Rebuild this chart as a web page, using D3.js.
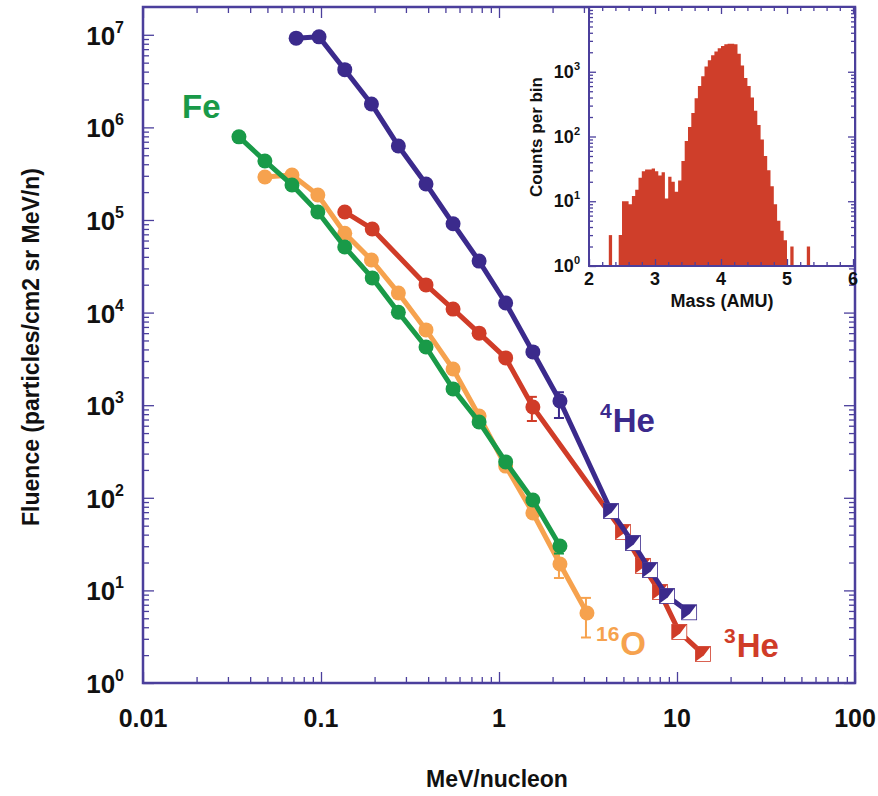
<!DOCTYPE html>
<html><head><meta charset="utf-8">
<script src="https://cdn.jsdelivr.net/npm/d3@7"></script>
<style>
body{margin:0;background:#fff}
text{font-family:"Liberation Sans",Arial,Helvetica,sans-serif;font-weight:bold}
</style>
</head><body>
<svg id="chart" width="878" height="796"></svg>
<script>
// ---------------- DATA ----------------
// 4He (purple)
const he4Energy = [0.0725, 0.0975, 0.136, 0.192, 0.272, 0.389, 0.552, 0.773, 1.09, 1.55, 2.20];
const he4Fluence = [9.2e6, 9.5e6, 4.2e6, 1.79e6, 6.3e5, 2.45e5, 9.1e4, 3.6e4, 1.27e4, 3.76e3, 1.11e3];
const he4HiEnergy = [4.26, 5.66, 7.05, 8.79, 11.7];
const he4HiFluence = [72, 32.5, 16.6, 8.7, 5.8];
// 3He (red)
const he3Energy = [0.136, 0.194, 0.389, 0.552, 0.773, 1.09, 1.55];
const he3Fluence = [1.22e5, 8.0e4, 1.99e4, 1.09e4, 6.0e3, 3.24e3, 955];
const he3HiEnergy = [4.97, 6.44, 8.02, 10.3, 14.0];
const he3HiFluence = [42.7, 18.4, 9.6, 3.55, 2.06];
// 16O (orange)
const oEnergy = [0.0484, 0.0687, 0.096, 0.136, 0.192, 0.272, 0.389, 0.552, 0.773, 1.09, 1.55, 2.20, 3.12];
const oFluence = [2.91e5, 3.06e5, 1.86e5, 7.2e4, 3.7e4, 1.63e4, 6.5e3, 2.46e3, 764, 220, 68.5, 19.3, 5.7];
// Fe (green)
const feEnergy = [0.0346, 0.0484, 0.0687, 0.096, 0.136, 0.194, 0.272, 0.389, 0.552, 0.773, 1.09, 1.55, 2.20];
const feFluence = [7.9e5, 4.34e5, 2.39e5, 1.22e5, 5.1e4, 2.37e4, 1.01e4, 4.25e3, 1.5e3, 659, 244, 94.7, 30.2];
// error bars
const errSeries = ["he4", "he3", "o", "o", "fe"];
const errEnergy = [2.20, 1.55, 2.20, 3.12, 2.20];
const errLow = [727, 675, 13.6, 3.1, 25];
const errHigh = [1380, 1230, 28.7, 8.3, 34];
// axis ticks
const xMajorTicks = [0.01, 0.1, 1, 10, 100];
const xTickLabels = ["0.01", "0.1", "1", "10", "100"];
const yExponents = [0, 1, 2, 3, 4, 5, 6, 7];
// inset histogram (mass bins of 0.05 AMU, start values)
const massBinStart = [2.30, 2.45, 2.50, 2.55, 2.60, 2.65, 2.70, 2.75, 2.80, 2.85, 2.90, 2.95, 3.00, 3.05, 3.10, 3.15, 3.20, 3.25, 3.30, 3.35,
  3.40, 3.45, 3.50, 3.55, 3.60, 3.65, 3.70, 3.75, 3.80, 3.85, 3.90, 3.95, 4.00, 4.05, 4.10, 4.15, 4.20,
  4.25, 4.30, 4.35, 4.40, 4.45, 4.50, 4.55, 4.60, 4.65, 4.70, 4.75, 4.80, 4.85, 4.90, 4.95, 5.05, 5.30];
const massCounts = [3, 3, 10, 10, 9, 12, 15, 23, 29, 31, 31, 32, 29, 25, 28, 11, 24, 20, 14, 21,
  42, 85, 140, 230, 390, 600, 850, 1200, 1500, 1800, 2050, 2300, 2500, 2650, 2700, 2700, 2650,
  1900, 1250, 800, 600, 400, 250, 150, 90, 50, 30, 17, 9, 5, 3.5, 2.5, 2, 2];
const massBinWidth = 0.05;
const insetXTicks = [2, 3, 4, 5, 6];
const insetYExponents = [0, 1, 2, 3];

// ---------------- STYLE ----------------
const C = {he4: "#3b2a8c", he3: "#d03c28", o: "#f6a24e", fe: "#199a48", frame: "#4b3f9c", hist: "#cf3e2a"};

const svg = d3.select("#chart");
const M = {left: 143, right: 855, top: 7, bottom: 683};
const x = d3.scaleLog().domain([0.01, 100]).range([M.left, M.right]);
const y = d3.scaleLog().domain([1, Math.pow(10, 7.3)]).range([M.bottom, M.top]);

function minorLog(lo, hi) {
  const out = [];
  for (let e = lo; e < hi; e++) for (let k = 2; k <= 9; k++) out.push(k * Math.pow(10, e));
  return out;
}
function tickGroup(axisFn, scale, values, size, tx, ty) {
  svg.append("g").attr("transform", `translate(${tx},${ty})`)
    .call(axisFn(scale).tickValues(values).tickSize(size).tickFormat(""))
    .call(g => g.select(".domain").remove())
    .call(g => g.selectAll("line").attr("stroke", C.frame).attr("stroke-width", 1.3));
}

// main ticks
const xMinor = minorLog(-2, 2);
const yMajor = yExponents.map(e => Math.pow(10, e));
const yMinor = minorLog(0, 8).filter(v => v < Math.pow(10, 7.3));
tickGroup(d3.axisBottom, x, xMajorTicks, -11, 0, M.bottom);
tickGroup(d3.axisBottom, x, xMinor, -6, 0, M.bottom);
tickGroup(d3.axisTop, x, xMajorTicks, -11, 0, M.top);
tickGroup(d3.axisTop, x, xMinor, -6, 0, M.top);
tickGroup(d3.axisLeft, y, yMajor, -11, M.left, 0);
tickGroup(d3.axisLeft, y, yMinor, -6, M.left, 0);
tickGroup(d3.axisRight, y, yMajor, -11, M.right, 0);
tickGroup(d3.axisRight, y, yMinor, -6, M.right, 0);

// tick labels
svg.append("g").selectAll("text").data(xMajorTicks).join("text")
  .attr("x", d => x(d)).attr("y", 727).attr("text-anchor", "middle")
  .attr("font-size", 25).attr("fill", "#111").text((d, i) => xTickLabels[i]);
const yl = svg.append("g").selectAll("text").data(yExponents).join("text")
  .attr("x", 124).attr("y", d => y(Math.pow(10, d)) + 10).attr("text-anchor", "end")
  .attr("font-size", 26).attr("fill", "#111");
yl.append("tspan").text("10");
yl.append("tspan").attr("font-size", 16).attr("dy", -12).text(d => d);

// axis titles
svg.append("text").attr("x", 497).attr("y", 787).attr("text-anchor", "middle")
  .attr("font-size", 23).attr("fill", "#111").text("MeV/nucleon");
svg.append("text").attr("transform", "translate(39,347) rotate(-90)").attr("text-anchor", "middle")
  .attr("font-size", 23).attr("fill", "#111").text("Fluence (particles/cm2 sr MeV/n)");

// ---------------- SERIES ----------------
const line = d3.line().x(d => x(d[0])).y(d => y(d[1]));
function zip(a, b) { return a.map((v, i) => [v, b[i]]); }

const series = [
  {key: "o", pts: zip(oEnergy, oFluence), tri: []},
  {key: "fe", pts: zip(feEnergy, feFluence), tri: []},
  {key: "he3", pts: zip(he3Energy, he3Fluence), tri: zip(he3HiEnergy, he3HiFluence)},
  {key: "he4", pts: zip(he4Energy, he4Fluence), tri: zip(he4HiEnergy, he4HiFluence)}
];

series.forEach(s => {
  const g = svg.append("g");
  g.append("path").attr("d", line(s.pts.concat(s.tri))).attr("fill", "none")
    .attr("stroke", C[s.key]).attr("stroke-width", 5).attr("stroke-linejoin", "round");
  // error bars
  errSeries.forEach((k, i) => {
    if (k !== s.key) return;
    const ex = x(errEnergy[i]) - 1, y1 = y(errLow[i]), y2 = y(errHigh[i]);
    g.append("line").attr("x1", ex).attr("x2", ex).attr("y1", y1).attr("y2", y2).attr("stroke", C[k]).attr("stroke-width", 2);
    [y1, y2].forEach(yy => g.append("line").attr("x1", ex - 5).attr("x2", ex + 5).attr("y1", yy).attr("y2", yy).attr("stroke", C[k]).attr("stroke-width", 2));
  });
  g.selectAll("circle").data(s.pts).join("circle")
    .attr("cx", d => x(d[0])).attr("cy", d => y(d[1])).attr("r", 7.5).attr("fill", C[s.key]);
  const h = 7.5;
  const tg = g.selectAll("g.tri").data(s.tri).join("g").attr("class", "tri")
    .attr("transform", d => `translate(${x(d[0])},${y(d[1])})`);
  tg.append("rect").attr("x", -h).attr("y", -h).attr("width", 2 * h).attr("height", 2 * h)
    .attr("fill", "#fff").attr("stroke", C[s.key]).attr("stroke-width", 0.8);
  tg.append("path").attr("d", `M${-h},${-h}L${h},${-h}L${h * 0.1},${h * 0.2}L${-h},${h}Z`).attr("fill", C[s.key]);
});

// frame
svg.append("rect").attr("x", M.left).attr("y", M.top).attr("width", M.right - M.left).attr("height", M.bottom - M.top)
  .attr("fill", "none").attr("stroke", C.frame).attr("stroke-width", 2.5);

// series labels
function label(tx, ty, sup, main, color) {
  const t = svg.append("text").attr("x", tx).attr("y", ty).attr("fill", color).attr("font-size", 33);
  if (sup) t.append("tspan").attr("font-size", 21).attr("dy", -14).text(sup);
  t.append("tspan").attr("dy", sup ? 14 : 0).attr("dx", sup ? 1 : 0).text(main);
}
label(182, 118, null, "Fe", C.fe);
label(600, 432, "4", "He", C.he4);
label(596, 655, "16", "O", C.o);
label(724, 657, "3", "He", C.he3);

// ---------------- INSET ----------------
const I = {left: 589, right: 855, top: 7, bottom: 266};
const ix = d3.scaleLinear().domain([2, 6]).range([I.left, I.right - 2]);
const iy = d3.scaleLog().domain([1, 1e4]).range([I.bottom, I.top]);
svg.append("rect").attr("x", I.left).attr("y", I.top).attr("width", I.right - I.left).attr("height", I.bottom - I.top).attr("fill", "#fff");

// group contiguous bins into runs and draw each run as one stepped area
const runs = [];
massBinStart.forEach((m, i) => {
  const last = runs[runs.length - 1];
  if (last && Math.abs(last[last.length - 1][0] - m) < 1e-6) last.pop();
  else runs.push([]);
  const r = runs[runs.length - 1];
  r.push([m, massCounts[i]]);
  r.push([m + massBinWidth, massCounts[i]]);
});
const histArea = d3.area().curve(d3.curveStepAfter)
  .x(d => ix(d[0])).y0(I.bottom).y1(d => iy(d[1]));
svg.append("g").selectAll("path").data(runs).join("path")
  .attr("d", histArea).attr("fill", C.hist);

const ixMinor = d3.range(2, 6.001, 0.2).filter(v => Math.abs(v - Math.round(v)) > 0.01);
const iyMajor = insetYExponents.map(e => Math.pow(10, e));
const iyMinor = minorLog(0, 4);
tickGroup(d3.axisBottom, ix, insetXTicks, -7, 0, I.bottom);
tickGroup(d3.axisBottom, ix, ixMinor, -4, 0, I.bottom);
tickGroup(d3.axisTop, ix, insetXTicks, -7, 0, I.top);
tickGroup(d3.axisTop, ix, ixMinor, -4, 0, I.top);
tickGroup(d3.axisLeft, iy, iyMajor, -7, I.left, 0);
tickGroup(d3.axisLeft, iy, iyMinor, -4, I.left, 0);
tickGroup(d3.axisRight, iy, iyMajor, -7, I.right, 0);
tickGroup(d3.axisRight, iy, iyMinor, -4, I.right, 0);
svg.append("rect").attr("x", I.left).attr("y", I.top).attr("width", I.right - I.left).attr("height", I.bottom - I.top)
  .attr("fill", "none").attr("stroke", C.frame).attr("stroke-width", 2);

svg.append("g").selectAll("text").data(insetXTicks).join("text")
  .attr("x", d => ix(d)).attr("y", 285).attr("text-anchor", "middle")
  .attr("font-size", 18).attr("fill", "#111").text(d => d);
const iyl = svg.append("g").selectAll("text").data(insetYExponents).join("text")
  .attr("x", 580).attr("y", d => iy(Math.pow(10, d)) + 6).attr("text-anchor", "end")
  .attr("font-size", 18).attr("fill", "#111");
iyl.append("tspan").text("10");
iyl.append("tspan").attr("font-size", 11).attr("dy", -8).text(d => d);
svg.append("text").attr("x", 722).attr("y", 307).attr("text-anchor", "middle")
  .attr("font-size", 18).attr("fill", "#111").text("Mass (AMU)");
svg.append("text").attr("transform", "translate(542,137) rotate(-90)").attr("text-anchor", "middle")
  .attr("font-size", 17).attr("fill", "#111").text("Counts per bin");
</script>
</body></html>
